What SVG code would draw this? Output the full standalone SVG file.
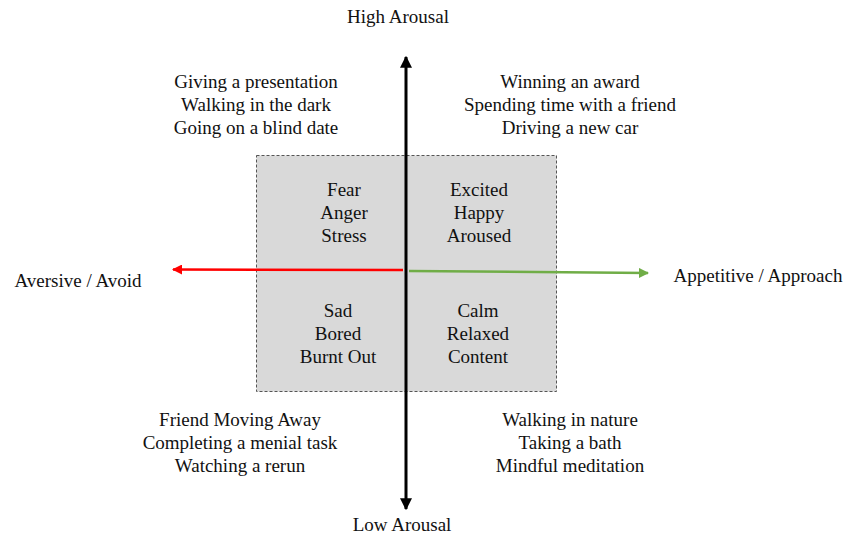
<svg xmlns="http://www.w3.org/2000/svg" width="856" height="536" viewBox="0 0 856 536">
  <style>
    text { font-family: "Liberation Serif", "Times New Roman", serif; font-size: 19px; fill: #111; text-anchor: middle; }
    .box { fill: #d9d9d9; stroke: #555; stroke-width: 1; stroke-dasharray: 3 2; }
    .axis { stroke: #000; stroke-width: 3; fill: none; }
  </style>
  <defs>
    <marker id="headBlack" viewBox="0 0 10 10" refX="9" refY="5" markerWidth="4" markerHeight="4" orient="auto-start-reverse">
      <path d="M0,0 L10,5 L0,10 z" fill="#000"/>
    </marker>
    <marker id="headRed" viewBox="0 0 10 10" refX="9" refY="5" markerWidth="4" markerHeight="4" orient="auto">
      <path d="M0,0 L10,5 L0,10 z" fill="#ff0000"/>
    </marker>
    <marker id="headGreen" viewBox="0 0 10 10" refX="9" refY="5" markerWidth="4" markerHeight="4" orient="auto">
      <path d="M0,0 L10,5 L0,10 z" fill="#70ad47"/>
    </marker>
  </defs>

  <!-- central grey quadrant box -->
  <rect id="core" class="box" x="256.5" y="155.5" width="300" height="236"/>

  <!-- axes -->
  <g id="connectors">
    <line x1="403" y1="270" x2="173" y2="269.5" stroke="#ff0000" stroke-width="2.5" marker-end="url(#headRed)"/>
    <line x1="409" y1="271" x2="648" y2="273" stroke="#70ad47" stroke-width="2.5" marker-end="url(#headGreen)"/>
    <line class="axis" x1="406" y1="57" x2="406" y2="509" marker-start="url(#headBlack)" marker-end="url(#headBlack)"/>
  </g>

  <g id="high-arousal"><text x="398" y="23">High Arousal</text></g>
  <g id="low-arousal"><text x="402" y="531">Low Arousal</text></g>
  <g id="aversive"><text x="78" y="287">Aversive / Avoid</text></g>
  <g id="appetitive"><text x="758" y="282">Appetitive / Approach</text></g>

  <g id="examples-top-left">
    <text x="256" y="88">Giving a presentation</text>
    <text x="256" y="111">Walking in the dark</text>
    <text x="256" y="134">Going on a blind date</text>
  </g>
  <g id="examples-top-right">
    <text x="570" y="88">Winning an award</text>
    <text x="570" y="111">Spending time with a friend</text>
    <text x="570" y="134">Driving a new car</text>
  </g>
  <g id="emotions-top-left">
    <text x="344" y="196">Fear</text>
    <text x="344" y="219">Anger</text>
    <text x="344" y="242">Stress</text>
  </g>
  <g id="emotions-top-right">
    <text x="479" y="196">Excited</text>
    <text x="479" y="219">Happy</text>
    <text x="479" y="242">Aroused</text>
  </g>
  <g id="emotions-bottom-left">
    <text x="338" y="317">Sad</text>
    <text x="338" y="340">Bored</text>
    <text x="338" y="363">Burnt Out</text>
  </g>
  <g id="emotions-bottom-right">
    <text x="478" y="317">Calm</text>
    <text x="478" y="340">Relaxed</text>
    <text x="478" y="363">Content</text>
  </g>
  <g id="examples-bottom-left">
    <text x="240" y="426">Friend Moving Away</text>
    <text x="240" y="449">Completing a menial task</text>
    <text x="240" y="472">Watching a rerun</text>
  </g>
  <g id="examples-bottom-right">
    <text x="570" y="426">Walking in nature</text>
    <text x="570" y="449">Taking a bath</text>
    <text x="570" y="472">Mindful meditation</text>
  </g>
</svg>
